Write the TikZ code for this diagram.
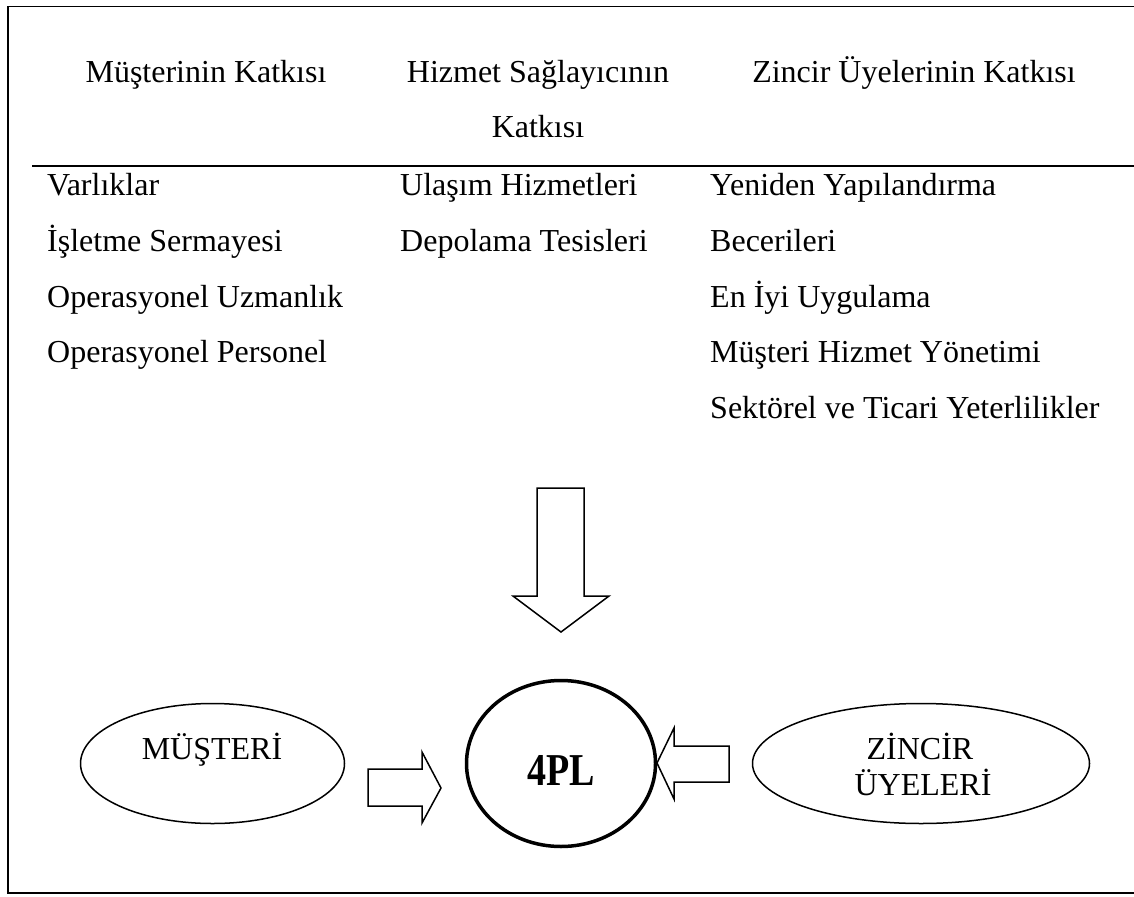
\documentclass[tikz,border=0pt]{standalone}
\usepackage{fontspec}
\setmainfont{Liberation Serif}
\usetikzlibrary{shapes.geometric}
\begin{document}
\begin{tikzpicture}[x=1pt,y=-1pt,
  txt/.style={font=\fontsize{32}{36}\selectfont, inner sep=0pt},
  item/.style={txt, anchor=base west},
  head/.style={txt, anchor=base},
  party/.style={draw, ellipse, line width=1.5pt, inner sep=0pt},
  blockarrow/.style={draw, line width=1.5pt, line join=miter, fill=white}]

\useasboundingbox (0,0) rectangle (1134,896);

% frame and header rule
\draw[line width=1.6pt] (1134,6.5) -- (8,6.5) -- (8,893) -- (1134,893);
\draw[line width=2pt] (32,166) -- (1134,166);

% column headings
\node[head] (h1) at (206,83) {Müşterinin Katkısı};
\node[head] (h2) at (538,83) {Hizmet Sağlayıcının};
\node[head] (h2b) at (538,138) {Katkısı};
\node[head] (h3) at (914,83) {Zincir Üyelerinin Katkısı};

% customer contributions
\node[item] (c1) at (47,196) {Varlıklar};
\node[item] (c2) at (47,251.5) {İşletme Sermayesi};
\node[item] (c3) at (47,307) {Operasyonel Uzmanlık};
\node[item] (c4) at (47,362.5) {Operasyonel Personel};

% service provider contributions
\node[item] (s1) at (400,196) {Ulaşım Hizmetleri};
\node[item] (s2) at (400,251.5) {Depolama Tesisleri};

% chain member contributions
\node[item] (z1) at (710,196) {Yeniden Yapılandırma};
\node[item] (z2) at (710,251.5) {Becerileri};
\node[item] (z3) at (710,307) {En İyi Uygulama};
\node[item] (z4) at (710,362.5) {Müşteri Hizmet Yönetimi};
\node[item] (z5) at (710,418) {Sektörel ve Ticari Yeterlilikler};

% downward block arrow
\draw[blockarrow] (537,488) -- (584,488) -- (584,596) -- (609,596) -- (561,632)
  -- (513,596) -- (537,596) -- cycle;

% central 4PL node
\node[draw, ellipse, line width=3.5pt, minimum width=189pt, minimum height=166pt, inner sep=0pt]
  (pl) at (561,763.5) {};
\node[anchor=base, inner sep=0pt, font=\fontsize{38}{42}\selectfont\bfseries]
  (pltext) at (561,785) {\scalebox{1}[1.2]{4PL}};

% customer and chain members
\node[party, minimum width=264pt, minimum height=120pt] (cust) at (212.5,763.5) {};
\node[head] (custtext) at (212,759) {MÜŞTERİ};
\node[party, minimum width=337pt, minimum height=120pt] (chain) at (921,763.5) {};
\node[head] (chaintext1) at (920,759) {ZİNCİR};
\node[head] (chaintext2) at (923,795) {ÜYELERİ};

% side block arrows into 4PL
\draw[blockarrow] (368,769) -- (422,769) -- (422,752) -- (441,788) -- (422,823)
  -- (422,806) -- (368,806) -- cycle;
\draw[blockarrow] (729,746) -- (674,746) -- (674,728) -- (657,763) -- (674,799)
  -- (674,782) -- (729,782) -- cycle;
\end{tikzpicture}
\end{document}
